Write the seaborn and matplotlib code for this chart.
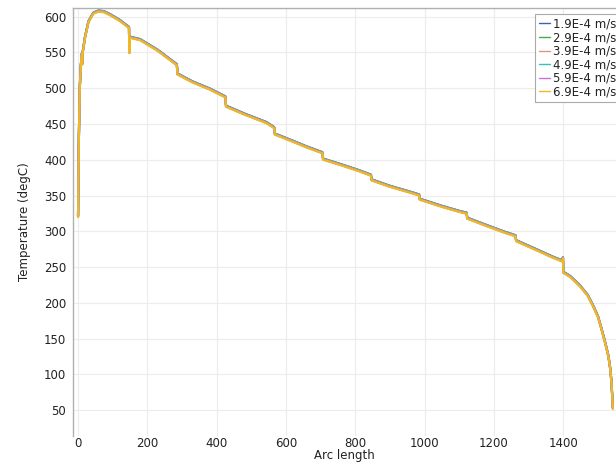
import numpy as np
import pandas as pd
import matplotlib
matplotlib.use("Agg")
import matplotlib.pyplot as plt
import seaborn as sns

# ---- data ----
arc_length = [0, 2, 5, 8, 10, 11, 12, 13, 20, 30, 44, 59, 75, 92, 120, 147, 148, 149,
              153, 179, 230, 285, 287, 330, 380, 425, 427, 480, 544, 566, 568, 620,
              660, 705, 707, 760, 810, 845, 847, 900, 950, 984, 986, 1050, 1100, 1121,
              1123, 1180, 1230, 1262, 1264, 1320, 1370, 1396, 1399, 1400, 1420, 1448,
              1470, 1486, 1500, 1510, 1520, 1530, 1536, 1539, 1541, 1543]
temperature = [320, 420, 500, 530, 542, 547, 533, 548, 570, 592, 604, 607, 606, 602, 594,
               584, 549, 570, 570, 567, 552, 532, 519, 508, 498, 487, 474, 463, 451, 444,
               435, 425, 417, 409, 400, 392, 384, 377.6, 371, 362, 355, 350, 344, 334,
               327, 324.5, 317.5, 307, 298, 293, 286, 274, 263, 258, 262, 242, 236, 223,
               210, 195, 180, 163, 145, 125, 105, 87, 70, 52]
series_labels = ["1.9E-4 m/s", "2.9E-4 m/s", "3.9E-4 m/s", "4.9E-4 m/s", "5.9E-4 m/s", "6.9E-4 m/s"]
series_shift = [1.6, 1.3, 1.0, 0.7, 0.4, 0.0]   # small visible differences between series
series_colors = ["#3f5fbf", "#4caa4c", "#e8907f", "#2ec4c4", "#c873d6", "#f0b922"]
x_ticks = [0, 200, 400, 600, 800, 1000, 1200, 1400]
y_ticks = [50, 100, 150, 200, 250, 300, 350, 400, 450, 500, 550, 600]

rows = []
for lab, sh in zip(series_labels, series_shift):
    for a, t in zip(arc_length, temperature):
        rows.append({"Arc length": a, "Temperature": t + sh, "series": lab})
df = pd.DataFrame(rows)

sns.set_theme(style="whitegrid")
plt.rcParams["font.family"] = ["DejaVu Sans"]

fig = plt.figure(figsize=(6.16, 4.63), dpi=100)
ax = fig.add_axes([72.5 / 616, 1 - 436 / 463, 1 - 72.5 / 616, (436 - 8) / 463])

sns.lineplot(data=df, x="Arc length", y="Temperature", hue="series",
             hue_order=series_labels, palette=series_colors, estimator=None,
             sort=False, linewidth=1.6, ax=ax)

ax.set_xlim(-16, 1552)
ax.set_ylim(14, 612)
ax.set_xticks(x_ticks)
ax.set_yticks(y_ticks)
ax.grid(True, color="#ececec", linewidth=0.8)
ax.set_facecolor("white")
for s in ["bottom", "right"]:
    ax.spines[s].set_visible(False)
for s in ["left", "top"]:
    ax.spines[s].set_visible(True)
    ax.spines[s].set_color("#b0b0b0")
    ax.spines[s].set_linewidth(1.0)
ax.tick_params(axis="both", labelsize=8.5, colors="#222222", length=2.5, width=0.8,
               pad=2, direction="out")
ax.tick_params(axis="both", color="#999999")
ax.tick_params(axis="x", length=0, pad=1)
ax.set_xlabel("Arc length", fontsize=8.5, color="#222222", labelpad=-0.8)
ax.set_ylabel("Temperature (degC)", fontsize=8.5, color="#222222", labelpad=9)

leg = ax.legend(loc="upper left", bbox_to_anchor=(535 / 616, 1 - 14 / 463),
                bbox_transform=fig.transFigure, borderaxespad=0, fontsize=8.5,
                handlelength=1.0, handletextpad=0.2, labelspacing=0.05,
                borderpad=0.3, frameon=True, fancybox=False, framealpha=1)
leg.get_frame().set_edgecolor("#aaaaaa")
leg.get_frame().set_linewidth(0.8)
for line in leg.get_lines():
    line.set_linewidth(1.0)
for txt in leg.get_texts():
    txt.set_color("#222222")

fig.savefig("out.png", dpi=100)
